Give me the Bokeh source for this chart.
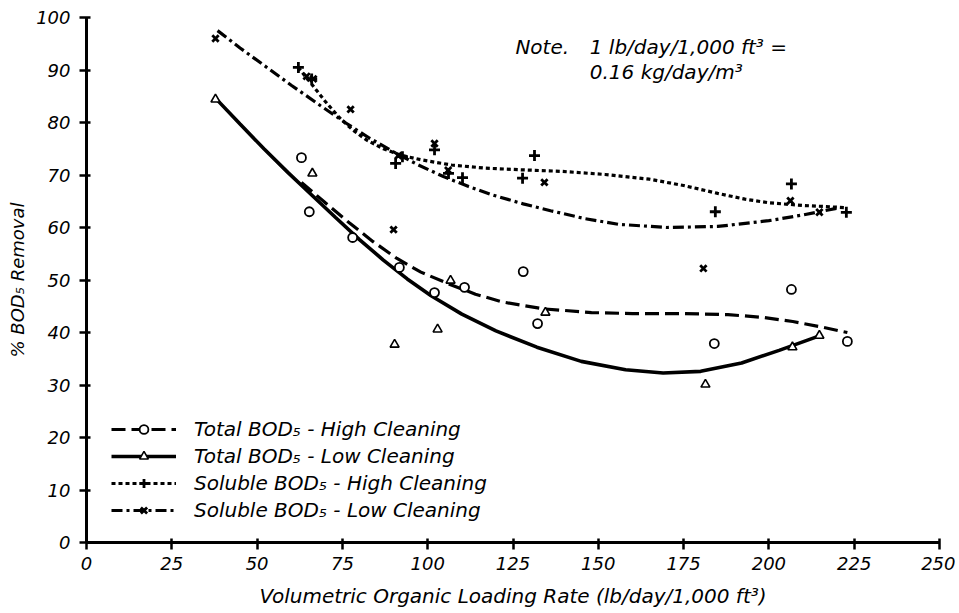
from bokeh.plotting import figure
from bokeh.models import Legend, LegendItem, Label, FixedTicker
from bokeh.embed import file_html
from bokeh.resources import INLINE

FONT = "DejaVu Sans"

# Scatter data (x: lb/day/1,000 ft3, y: % BOD5 removal)
total_high_x = [63, 65.3, 78, 91.7, 102, 110.8, 128, 132.2, 184, 206.6, 223]
total_high_y = [73.3, 63.0, 58.1, 52.4, 47.6, 48.6, 51.6, 41.7, 37.9, 48.2, 38.3]

total_low_x = [37.8, 66.2, 90.3, 102.9, 106.7, 134.5, 181.4, 206.9, 214.8]
total_low_y = [84.4, 70.3, 37.7, 40.6, 49.9, 43.8, 30.1, 37.2, 39.4]

sol_high_x = [62.1, 66, 90.6, 92.6, 102, 106.1, 110.2, 127.8, 131.3, 184.3, 206.6, 222.7]
sol_high_y = [90.5, 88.3, 72.2, 73.5, 74.8, 70.3, 69.5, 69.4, 73.7, 63.0, 68.3, 62.9]

sol_low_x = [37.8, 64.5, 66.5, 77.4, 90, 91.4, 102, 106, 134.2, 180.8, 206.3, 214.8]
sol_low_y = [96.0, 88.8, 88.3, 82.5, 59.6, 73.7, 76.0, 70.9, 68.6, 52.2, 65.1, 62.9]

# Fitted curves
total_high_cx = [63, 70, 77, 84, 91, 98, 106, 114, 122, 134, 148, 160, 175, 188, 198, 207, 215, 223]
total_high_cy = [68.6, 64.7, 60.9, 57.3, 54.1, 51.5, 49.3, 47.3, 45.8, 44.5, 43.8, 43.6, 43.6, 43.4, 42.9, 42.1, 41.1, 40.0]

total_low_cx = [38, 45, 52, 59, 66, 73, 80, 87, 94, 101, 110, 120, 132, 145, 158, 169, 180, 192, 203, 215]
total_low_cy = [84.5, 79.7, 75.0, 70.5, 66.2, 61.9, 57.7, 53.8, 50.2, 47.0, 43.5, 40.3, 37.2, 34.5, 32.9, 32.3, 32.6, 34.2, 36.6, 39.4]

sol_high_cx = [62, 66, 70, 74, 78, 82, 87, 92, 98, 107, 117, 127, 139, 152, 165, 175, 185, 193, 200, 210, 222]
sol_high_cy = [90.5, 87.3, 84.0, 81.0, 78.6, 76.7, 75.0, 73.8, 72.9, 71.9, 71.3, 71.0, 70.7, 70.1, 69.2, 68.0, 66.5, 65.4, 64.7, 64.2, 63.8]

sol_low_cx = [38.4, 45, 52, 60, 68.6, 76, 83, 90, 97, 104.6, 112, 119, 128, 136, 146, 156, 170, 185, 200, 210, 221]
sol_low_cy = [97.5, 94.2, 90.9, 87.1, 83.2, 79.9, 77.0, 74.4, 72.0, 69.7, 67.8, 66.2, 64.5, 63.2, 61.7, 60.6, 60.0, 60.2, 61.3, 62.4, 63.8]

labels = ["Total BOD\u2085 - High Cleaning", "Total BOD\u2085 - Low Cleaning",
          "Soluble BOD\u2085 - High Cleaning", "Soluble BOD\u2085 - Low Cleaning"]
x_ticks = [0, 25, 50, 75, 100, 125, 150, 175, 200, 225, 250]
y_ticks = [0, 10, 20, 30, 40, 50, 60, 70, 80, 90, 100]

p = figure(width=955, height=613, x_range=(0, 250), y_range=(0, 100),
           output_backend="svg", toolbar_location=None,
           min_border_left=86, min_border_right=16, min_border_top=17, min_border_bottom=71)
p.outline_line_color = None
p.xgrid.visible = False
p.ygrid.visible = False
p.background_fill_color = "white"
p.border_fill_color = "white"

for ax in (p.xaxis[0], p.yaxis[0]):
    ax.axis_line_width = 3
    ax.axis_line_color = "black"
    ax.major_tick_line_width = 2.5
    ax.major_tick_out = 7
    ax.major_tick_in = 4
    ax.minor_tick_line_color = None
    ax.major_label_text_font = FONT
    ax.major_label_text_font_style = "italic"
    ax.major_label_text_font_size = "18px"
    ax.major_label_text_color = "black"
    ax.axis_label_text_font = FONT
    ax.axis_label_text_font_style = "italic"
    ax.axis_label_text_color = "black"

p.xaxis.axis_label_text_font_size = "20px"
p.yaxis.axis_label_text_font_size = "18px"
p.xaxis.ticker = FixedTicker(ticks=x_ticks)
p.yaxis.ticker = FixedTicker(ticks=y_ticks)
p.xaxis.axis_label = "Volumetric Organic Loading Rate (lb/day/1,000 ft\u00b3)"
p.yaxis.axis_label = "% BOD\u2085 Removal"
p.xaxis.major_label_standoff = 7
p.xaxis.axis_label_standoff = 11
p.yaxis.major_label_standoff = 9
p.yaxis.axis_label_standoff = 5

# curves
l1 = p.line(total_high_cx, total_high_cy, line_color="black", line_width=3.2, line_dash="14 6")
l2 = p.line(total_low_cx, total_low_cy, line_color="black", line_width=3.6)
l3 = p.line(sol_high_cx, sol_high_cy, line_color="black", line_width=3.2, line_dash="4 3")
l4 = p.line(sol_low_cx, sol_low_cy, line_color="black", line_width=3.2, line_dash="11 4 3 4")

# markers
m1 = p.scatter(total_high_x, total_high_y, marker="circle", size=9, fill_color="white",
               line_color="black", line_width=1.8)
m2 = p.scatter(total_low_x, total_low_y, marker="triangle", size=9, fill_color="white",
               line_color="black", line_width=1.6)
m3 = p.scatter(sol_high_x, sol_high_y, marker="cross", size=11, line_color="black", line_width=2.8)
m4 = p.scatter(sol_low_x, sol_low_y, marker="x", size=9, line_color="black", line_width=2.8)

legend = Legend(items=[LegendItem(label=labels[0], renderers=[l1, m1]),
                       LegendItem(label=labels[1], renderers=[l2, m2]),
                       LegendItem(label=labels[2], renderers=[l3, m3]),
                       LegendItem(label=labels[3], renderers=[l4, m4])],
                location=(25, 20), glyph_width=65, glyph_height=22, spacing=3,
                label_standoff=18, padding=10, border_line_color=None,
                background_fill_alpha=0,
                label_text_font=FONT, label_text_font_style="italic",
                label_text_font_size="20px", label_text_color="black")
p.add_layout(legend, "center")

note_style = dict(text_font=FONT, text_font_style="italic", text_font_size="20px",
                  text_color="black", text_baseline="middle")
p.add_layout(Label(x=125.7, y=94.3, text="Note.", **note_style))
p.add_layout(Label(x=147.5, y=94.3, text="1 lb/day/1,000 ft\u00b3 =", **note_style))
p.add_layout(Label(x=147.5, y=89.7, text="0.16 kg/day/m\u00b3", **note_style))

open("out.html", "w").write(file_html(p, INLINE))
